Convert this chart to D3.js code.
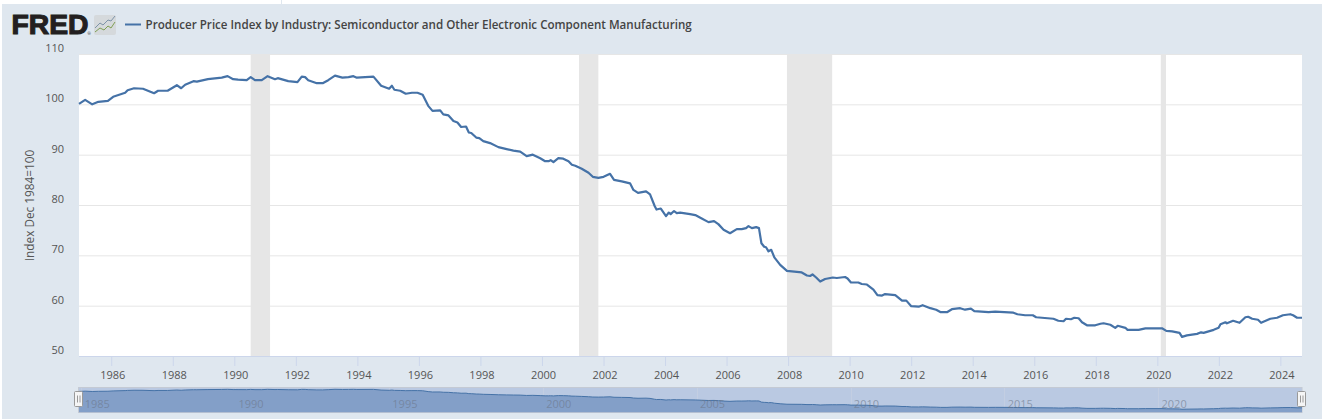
<!DOCTYPE html>
<html>
  <head>
    <meta charset="utf-8">
    <title>FRED chart</title>
    <script src="https://cdn.jsdelivr.net/npm/d3@7"></script>
    <style>
      html, body { margin: 0; padding: 0; background: #fff; }
      svg { display: block; }
      text { font-family: "Open Sans", sans-serif; }
    </style>
  </head>
  <body>
  <div id="chart"></div>

  <script>
  /* ------------------
    data
  ------------------ */

  var seriesTitle = "Producer Price Index by Industry: Semiconductor and Other Electronic Component Manufacturing";
  var yTitle = "Index Dec 1984=100";

  // decimal years and index values
  var years = [
    1984.92, 1985.12, 1985.35, 1985.55, 1985.86, 1986.03, 1986.42, 1986.50, 1986.71, 1987.00,
    1987.36, 1987.49, 1987.80, 1988.10, 1988.24, 1988.37, 1988.64, 1988.75, 1989.11, 1989.56,
    1989.75, 1989.93, 1990.09, 1990.37, 1990.50, 1990.64, 1990.86, 1991.05, 1991.29, 1991.38,
    1991.72, 1992.02, 1992.16, 1992.27, 1992.37, 1992.65, 1992.84, 1993.02, 1993.24, 1993.48,
    1993.68, 1993.84, 1993.95, 1994.49, 1994.74, 1995.00, 1995.09, 1995.17, 1995.36, 1995.54,
    1995.74, 1995.92, 1996.09, 1996.27, 1996.41, 1996.66, 1996.76, 1996.93, 1997.09, 1997.22,
    1997.34, 1997.50, 1997.59, 1997.67, 1997.83, 1997.93, 1998.06, 1998.28, 1998.55, 1998.82,
    1999.04, 1999.26, 1999.47, 1999.67, 1999.91, 2000.07, 2000.18, 2000.25, 2000.34, 2000.50,
    2000.66, 2000.83, 2000.94, 2001.05, 2001.26, 2001.48, 2001.62, 2001.80, 2001.97, 2002.18,
    2002.31, 2002.56, 2002.83, 2002.94, 2003.09, 2003.35, 2003.48, 2003.63, 2003.69, 2003.83,
    2004.00, 2004.09, 2004.15, 2004.26, 2004.35, 2004.46, 2004.78, 2004.95, 2005.16, 2005.38,
    2005.56, 2005.70, 2005.87, 2006.08, 2006.30, 2006.46, 2006.60, 2006.68, 2006.79, 2006.93,
    2007.02, 2007.10, 2007.19, 2007.25, 2007.33, 2007.42, 2007.52, 2007.71, 2007.93, 2008.41,
    2008.58, 2008.68, 2008.76, 2008.88, 2009.01, 2009.17, 2009.42, 2009.55, 2009.82, 2009.90,
    2010.01, 2010.25, 2010.36, 2010.53, 2010.74, 2010.87, 2011.02, 2011.12, 2011.45, 2011.67,
    2011.81, 2011.97, 2012.21, 2012.34, 2012.59, 2012.78, 2012.93, 2013.13, 2013.29, 2013.56,
    2013.72, 2013.91, 2014.02, 2014.48, 2014.70, 2015.29, 2015.42, 2015.67, 2015.92, 2016.03,
    2016.59, 2016.75, 2016.92, 2017.00, 2017.16, 2017.27, 2017.41, 2017.52, 2017.68, 2017.95,
    2018.12, 2018.22, 2018.44, 2018.60, 2018.68, 2018.93, 2019.00, 2019.36, 2019.58, 2020.12,
    2020.26, 2020.45, 2020.69, 2020.77, 2020.93, 2021.26, 2021.39, 2021.47, 2021.80, 2021.96,
    2022.02, 2022.18, 2022.23, 2022.43, 2022.64, 2022.83, 2022.92, 2023.05, 2023.24, 2023.34,
    2023.64, 2023.86, 2024.05, 2024.29, 2024.38, 2024.51, 2024.67
  ];
  var values = [
    100.1, 100.9, 100.0, 100.5, 100.7, 101.5, 102.3, 102.8, 103.2, 103.1,
    102.2, 102.7, 102.7, 103.8, 103.2, 103.9, 104.6, 104.5, 105.0, 105.3,
    105.6, 105.0, 104.9, 104.8, 105.4, 104.8, 104.8, 105.6, 105.0, 105.2,
    104.6, 104.4, 105.5, 105.4, 104.8, 104.2, 104.2, 104.8, 105.7, 105.3,
    105.4, 105.6, 105.3, 105.5, 103.7, 103.1, 103.7, 102.9, 102.7, 102.1,
    102.3, 102.3, 101.9, 99.7, 98.7, 98.8, 98.0, 97.8, 96.7, 96.4,
    95.5, 95.6, 94.4, 94.3, 93.4, 93.3, 92.7, 92.3, 91.5, 91.1,
    90.8, 90.6, 89.7, 90.0, 89.3, 88.7, 88.7, 88.9, 88.5, 89.3,
    89.2, 88.7, 88.0, 87.8, 87.2, 86.4, 85.6, 85.4, 85.6, 86.2,
    85.0, 84.7, 84.3, 83.0, 82.4, 82.7, 82.1, 79.8, 79.1, 79.3,
    77.8, 78.5, 78.2, 78.8, 78.4, 78.5, 78.2, 78.0, 77.3, 76.6,
    76.8, 76.2, 75.1, 74.4, 75.2, 75.2, 75.4, 75.8, 75.4, 75.6,
    75.4, 72.4, 71.7, 71.6, 70.8, 71.1, 69.6, 68.1, 66.9, 66.6,
    66.0, 65.9, 66.2, 65.6, 64.8, 65.3, 65.6, 65.5, 65.7, 65.4,
    64.6, 64.6, 64.3, 64.2, 63.2, 62.1, 62.0, 62.3, 62.1, 61.0,
    61.0, 59.9, 59.8, 60.1, 59.5, 59.2, 58.7, 58.7, 59.3, 59.5,
    59.2, 59.4, 58.9, 58.7, 58.8, 58.6, 58.3, 58.1, 58.1, 57.7,
    57.4, 57.0, 56.9, 57.4, 57.3, 57.6, 57.5, 56.7, 56.1, 56.1,
    56.4, 56.5, 56.2, 55.6, 56.0, 55.6, 55.2, 55.2, 55.5, 55.5,
    55.0, 54.9, 54.6, 53.8, 54.1, 54.4, 54.7, 54.6, 55.2, 55.6,
    56.3, 56.7, 56.5, 57.0, 56.6, 57.7, 57.8, 57.4, 57.2, 56.6,
    57.4, 57.6, 58.1, 58.3, 58.1, 57.6, 57.6
  ];

  var recessionStart = [1990.50, 2001.17, 2007.93, 2020.08];
  var recessionEnd = [1991.13, 2001.80, 2009.40, 2020.25];

  var yTicks = [50, 60, 70, 80, 90, 100, 110];
  var xTicks = d3.range(1986, 2025, 2);
  var navTicks = [1985, 1990, 1995, 2000, 2005, 2010, 2015, 2020];

  var points = years.map(function(y, i) { return { year: y, value: values[i] }; });

  /* ------------------
    scales
  ------------------ */

  var plotLeft = 79, plotRight = 1302, plotTop = 54, plotBottom = 356;
  var navTop = 389.3, navBottom = 412.3;

  var x = d3.scaleLinear().domain([years[0], years[years.length - 1]]).range([plotLeft, plotRight]);
  var y = d3.scaleLinear().domain([50, 110]).range([plotBottom, plotTop]);
  var navY = d3.scaleLinear().domain([45.9, 105.7]).range([navBottom, navTop]);

  var svg = d3.select("#chart").append("svg").attr("width", 1324).attr("height", 419);

  /* ------------------
    panel & header
  ------------------ */

  svg.append("line").attr("x1", 281.5).attr("x2", 281.5).attr("y1", 0).attr("y2", 4)
    .attr("stroke", "#dfe7ef");
  svg.append("rect").attr("x", 2).attr("y", 4).attr("width", 1320).attr("height", 415)
    .attr("fill", "#dfe7ef");

  // logo
  svg.append("text").attr("x", 11.5).attr("y", 34).text("FRED")
    .attr("textLength", 77).attr("lengthAdjust", "spacingAndGlyphs")
    .style("font-family", "'Liberation Sans', sans-serif")
    .style("font-size", "27.5px").style("font-weight", 700)
    .attr("fill", "#231f20").attr("stroke", "#231f20").attr("stroke-width", 1.1);
  svg.append("text").attr("x", 87.5).attr("y", 34.5).text("®")
    .style("font-size", "4px").attr("fill", "#231f20");

  var icon = svg.append("g").attr("transform", "translate(94,15)");
  icon.append("rect").attr("width", 22).attr("height", 20).attr("rx", 2).attr("fill", "#d5d9dc");
  icon.append("path").attr("d", "M1 13L6 8L9 10L14 5L17 6L21 1")
    .attr("fill", "none").attr("stroke", "#7d93a8").attr("stroke-width", 1);
  icon.append("path").attr("d", "M1 17L6 13L10 15L14 11L17 13L21 7")
    .attr("fill", "none").attr("stroke", "#7f9f55").attr("stroke-width", 1);

  // legend
  svg.append("line").attr("x1", 125).attr("x2", 141).attr("y1", 24.5).attr("y2", 24.5)
    .attr("stroke", "#4572a7").attr("stroke-width", 2);
  svg.append("text").attr("x", 145.5).attr("y", 29).text(seriesTitle)
    .style("font-size", "11.6px").style("font-weight", 600).attr("fill", "#444");

  /* ------------------
    plot
  ------------------ */

  svg.append("rect").attr("x", plotLeft).attr("y", plotTop)
    .attr("width", plotRight - plotLeft).attr("height", plotBottom - plotTop).attr("fill", "#fff");

  var yAxis = svg.append("g").attr("transform", "translate(" + plotLeft + ",0)")
    .call(d3.axisLeft(y).tickValues(yTicks).tickSize(-(plotRight - plotLeft)).tickPadding(15));
  yAxis.select(".domain").remove();
  yAxis.selectAll("line").attr("stroke", "#e6e6e6");
  yAxis.selectAll("text").attr("dy", "-2.5").attr("fill", "#555")
    .style("font-size", "11px").style("font-family", "'Open Sans', sans-serif");

  svg.selectAll(".recession").data(recessionStart).enter().append("rect")
    .attr("class", "recession")
    .attr("x", function(d) { return x(d); })
    .attr("y", plotTop)
    .attr("width", function(d, i) { return x(recessionEnd[i]) - x(d); })
    .attr("height", plotBottom - plotTop)
    .attr("fill", "#e6e6e6");

  svg.append("path").datum(points)
    .attr("fill", "none").attr("stroke", "#4572a7").attr("stroke-width", 2.2)
    .attr("stroke-linejoin", "round")
    .attr("d", d3.line().x(function(d) { return x(d.year); }).y(function(d) { return y(d.value); }));

  var xAxis = svg.append("g").attr("transform", "translate(-1,356)")
    .call(d3.axisBottom(x).tickValues(xTicks).tickSize(10).tickPadding(5).tickFormat(d3.format("d")));
  xAxis.select(".domain").remove();
  xAxis.selectAll("line").attr("stroke", "#ccd6eb");
  xAxis.selectAll("text").attr("fill", "#555").attr("dx", "1")
    .style("font-size", "11px").style("font-family", "'Open Sans', sans-serif");
  svg.append("line").attr("x1", plotLeft).attr("x2", plotRight).attr("y1", 356.5).attr("y2", 356.5)
    .attr("stroke", "#ccd6eb");

  svg.append("text").attr("transform", "translate(34,205.5) rotate(-90)")
    .attr("text-anchor", "middle").text(yTitle)
    .style("font-size", "11.8px").attr("fill", "#555");

  /* ------------------
    navigator
  ------------------ */

  svg.append("rect").attr("x", 78.5).attr("y", 387.5).attr("width", plotRight - 78.5).attr("height", 25)
    .attr("fill", "#bac9e2").attr("stroke", "#c4cad4").attr("stroke-width", 1);

  svg.selectAll(".nav-grid").data(navTicks).enter().append("line")
    .attr("class", "nav-grid")
    .attr("x1", function(d) { return Math.round(x(d)) + 0.5; })
    .attr("x2", function(d) { return Math.round(x(d)) + 0.5; })
    .attr("y1", 388).attr("y2", 412)
    .attr("stroke", "#c3cee2");

  svg.append("path").datum(points)
    .attr("fill", "#839fc8").attr("stroke", "none")
    .attr("d", d3.area().x(function(d) { return x(d.year); })
      .y0(navBottom).y1(function(d) { return navY(d.value); }));
  svg.append("path").datum(points)
    .attr("fill", "none").attr("stroke", "#4572a7").attr("stroke-width", 1)
    .attr("d", d3.line().x(function(d) { return x(d.year); }).y(function(d) { return navY(d.value); }));

  svg.selectAll(".nav-label").data(navTicks).enter().append("text")
    .attr("class", "nav-label")
    .attr("x", function(d) { return x(d) + 3.2; })
    .attr("y", 408.3)
    .text(function(d) { return d; })
    .style("font-size", "11px").attr("fill", "#6b7688").attr("fill-opacity", 0.6);

  [74.5, 1297.5].forEach(function(hx) {
    var h = svg.append("g").attr("transform", "translate(" + hx + ",391.5)");
    h.append("rect").attr("width", 8).attr("height", 15).attr("rx", 1)
      .attr("fill", "#f5f5f5").attr("stroke", "#999");
    h.append("path").attr("d", "M3 4V11M5.5 4V11").attr("stroke", "#999").attr("fill", "none");
  });
  </script>
</body>
</html>
